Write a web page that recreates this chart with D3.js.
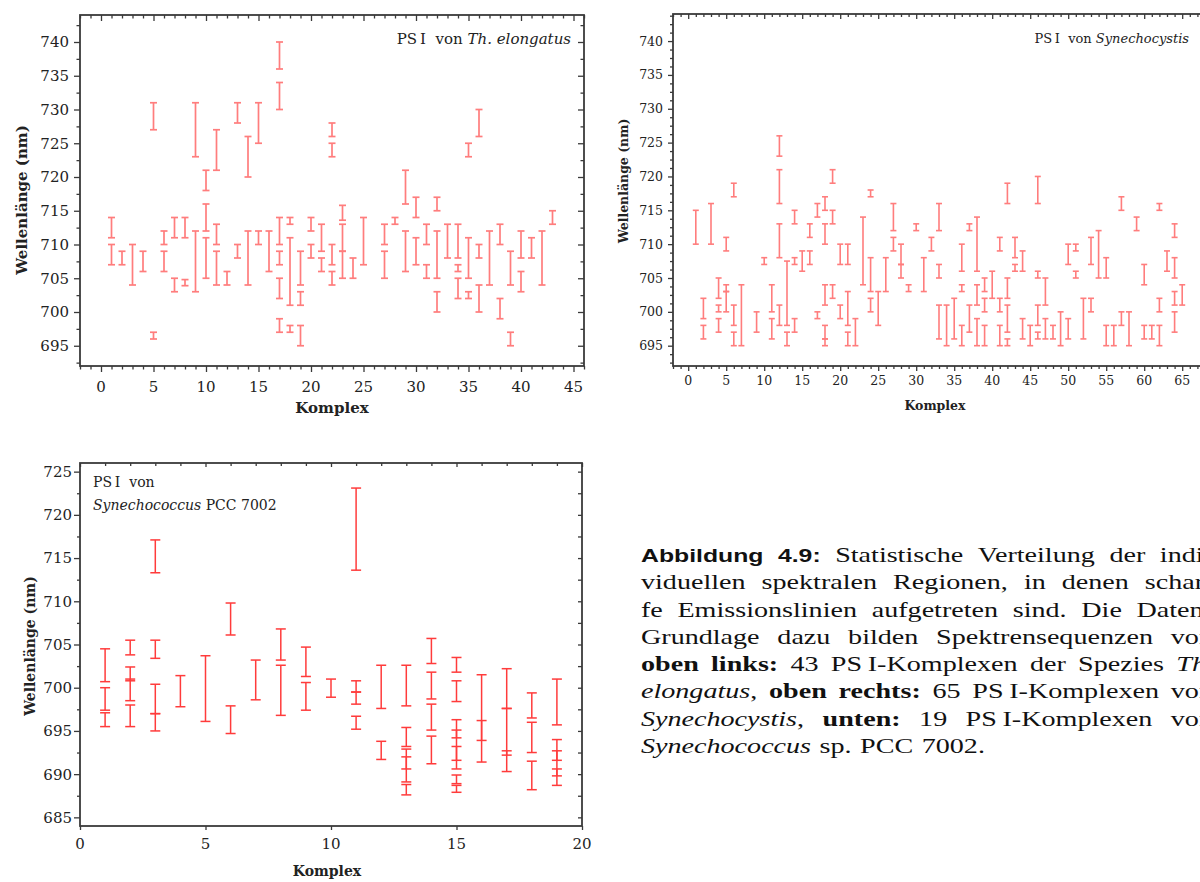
<!DOCTYPE html>
<html>
<head>
<meta charset="utf-8">
<script src="https://cdn.jsdelivr.net/npm/d3@7"></script>
<style>
  body { margin: 0; background: #fff; overflow: hidden; }
  svg { display: block; }
</style>
</head>
<body>
<svg id="fig" width="1200" height="882"></svg>
<script>
// [Komplex, lower nm, upper nm] -- one entry per spectral region
const elongatusBars = [
  [1, 711, 714], [1, 707, 710],
  [2, 707, 709],
  [3, 704, 710],
  [4, 706, 709],
  [5, 727, 731], [5, 696, 697],
  [6, 710, 712], [6, 706, 709],
  [7, 711, 714], [7, 703, 705],
  [8, 711, 714], [8, 703.9, 704.8],
  [9, 723, 731], [9, 703, 712],
  [10, 718, 721], [10, 712, 716], [10, 705, 711],
  [11, 721, 727], [11, 710, 713], [11, 704, 709],
  [12, 704, 706],
  [13, 728, 731], [13, 708, 710],
  [14, 720, 726], [14, 704, 712],
  [15, 725, 731], [15, 710, 712],
  [16, 706, 712],
  [17, 736, 740], [17, 730, 734], [17, 710, 714], [17, 707, 709], [17, 702, 705], [17, 697, 699],
  [18, 713, 714], [18, 701, 711], [18, 697, 698],
  [19, 704, 709], [19, 701, 703], [19, 695, 698],
  [20, 712, 714], [20, 708, 710],
  [21, 709, 713], [21, 706, 708],
  [22, 726, 728], [22, 723, 725], [22, 707, 710], [22, 704, 706],
  [23, 713.6, 715.8], [23, 709, 713], [23, 705, 709],
  [24, 705, 708],
  [25, 707, 714],
  [27, 710, 713], [27, 705, 709],
  [28, 713, 714],
  [29, 716, 721], [29, 706, 712],
  [30, 714, 717], [30, 707, 711],
  [31, 710, 713], [31, 705, 707],
  [32, 715, 717], [32, 705, 712], [32, 700, 703],
  [33, 708, 713],
  [34, 708, 713], [34, 706, 707], [34, 702, 705],
  [35, 723, 725], [35, 705, 711], [35, 702, 703],
  [36, 726, 730], [36, 708, 710], [36, 700, 704],
  [37, 704, 712],
  [38, 710, 713], [38, 699, 702],
  [39, 704, 709], [39, 695, 697],
  [40, 708, 712], [40, 703, 706],
  [41, 708, 711],
  [42, 704, 712],
  [43, 713, 715]
];

const synechocystisBars = [
  [1, 710, 715],
  [2, 699, 702], [2, 696, 698],
  [3, 710, 716],
  [4, 702, 705], [4, 700, 701], [4, 697, 699],
  [5, 709, 711], [5, 703, 704], [5, 700, 703],
  [6, 717, 719], [6, 698, 701], [6, 695, 697],
  [7, 695, 704],
  [9, 697, 700],
  [10, 707, 708],
  [11, 700, 704], [11, 696, 699],
  [12, 723, 726], [12, 716, 721], [12, 708, 713], [12, 698, 701],
  [13, 698, 707.5], [13, 695, 697],
  [14, 713, 715], [14, 707, 708], [14, 697, 699],
  [15, 706, 709],
  [16, 711, 713], [16, 707, 709],
  [17, 714, 716], [17, 699, 700],
  [18, 715, 717], [18, 710, 713], [18, 701, 704], [18, 696, 698], [18, 695, 696],
  [19, 719, 721], [19, 713, 715], [19, 702, 704],
  [20, 707, 710], [20, 699, 701],
  [21, 707, 710], [21, 698, 703], [21, 695, 697],
  [22, 695, 699],
  [23, 704, 714],
  [24, 717, 718], [24, 703, 708], [24, 700, 702],
  [25, 698, 703],
  [26, 703, 708],
  [27, 712, 716], [27, 709, 711],
  [28, 707, 710], [28, 705, 707],
  [29, 703, 704],
  [30, 712, 713],
  [31, 703, 708],
  [32, 709, 711],
  [33, 712, 716], [33, 705, 707], [33, 696, 701],
  [34, 695, 701],
  [35, 696, 702],
  [36, 706, 710], [36, 703, 704], [36, 695, 698],
  [37, 712, 713], [37, 697, 701],
  [38, 706, 714], [38, 701, 704], [38, 695, 699],
  [39, 703, 705], [39, 700, 702], [39, 695, 698],
  [40, 702, 706],
  [41, 709, 711], [41, 700, 702], [41, 695, 698],
  [42, 716, 719], [42, 702, 705], [42, 697, 701], [42, 695, 696],
  [43, 708, 711], [43, 706, 707],
  [44, 706, 709], [44, 696, 699],
  [45, 695, 698],
  [46, 716, 720], [46, 705, 706], [46, 698, 701], [46, 696, 697],
  [47, 701, 705], [47, 696, 699],
  [48, 696, 698],
  [49, 695, 700],
  [50, 707, 710], [50, 696, 699],
  [51, 709, 710], [51, 705, 706],
  [52, 696, 702],
  [53, 707, 711], [53, 700, 702],
  [54, 705, 712],
  [55, 705, 708], [55, 695, 698],
  [56, 695, 698],
  [57, 715, 717], [57, 698, 700],
  [58, 695, 700],
  [59, 712, 714],
  [60, 704, 707], [60, 696, 698],
  [61, 696, 698],
  [62, 715, 716], [62, 700, 702], [62, 695, 698],
  [63, 706, 709],
  [64, 711, 713], [64, 705, 708], [64, 701, 703], [64, 697, 700],
  [65, 701, 704]
];

const pcc7002Bars = [
  [1, 700.7, 704.5], [1, 697.4, 700.0], [1, 695.5, 697.1],
  [2, 703.8, 705.5], [2, 700.8, 702.4], [2, 698.5, 701.0], [2, 695.5, 698.0],
  [3, 713.3, 717.1], [3, 703.4, 705.5], [3, 697.0, 700.4], [3, 695.0, 697.0],
  [4, 697.8, 701.4],
  [5, 696.1, 703.7],
  [6, 706.1, 709.8], [6, 694.7, 697.9],
  [7, 698.6, 703.2],
  [8, 703.2, 706.8], [8, 696.8, 702.6],
  [9, 701.3, 704.7], [9, 697.4, 700.6],
  [10, 698.9, 701.0],
  [11, 713.6, 723.1], [11, 699.5, 700.8], [11, 698.1, 699.5], [11, 695.2, 696.7],
  [12, 697.6, 702.6], [12, 691.7, 693.8],
  [13, 697.9, 702.6], [13, 693.2, 695.4], [13, 690.6, 692.9], [13, 689.1, 692.0], [13, 687.6, 688.8],
  [14, 702.8, 705.7], [14, 698.7, 701.8], [14, 695.1, 698.1], [14, 691.2, 694.4],
  [15, 701.8, 703.5], [15, 698.4, 700.8], [15, 694.2, 696.3], [15, 691.6, 695.1], [15, 690.6, 693.2], [15, 688.9, 689.9], [15, 687.9, 688.7],
  [16, 693.9, 701.5], [16, 691.4, 696.2],
  [17, 697.6, 702.2], [17, 692.2, 697.6], [17, 690.3, 692.7],
  [18, 696.5, 699.4], [18, 692.5, 696.0], [18, 688.2, 691.5],
  [19, 695.7, 701.0], [19, 691.6, 694.0], [19, 689.8, 692.7], [19, 688.7, 690.6]
];

// tick labels
const xTicksElong = [0, 5, 10, 15, 20, 25, 30, 35, 40, 45];
const xTicksCystis = [0, 5, 10, 15, 20, 25, 30, 35, 40, 45, 50, 55, 60, 65];
const xTicksPcc = [0, 5, 10, 15, 20];
const yTicksTop = [695, 700, 705, 710, 715, 720, 725, 730, 735, 740];
const yTicksPcc = [685, 690, 695, 700, 705, 710, 715, 720, 725];

const captionLines = [
  "#Abbildung# #4.9:# Statistische Verteilung der indi-",
  "viduellen spektralen Regionen, in denen schar-",
  "fe Emissionslinien aufgetreten sind. Die Daten-",
  "Grundlage dazu bilden Spektrensequenzen von",
  "*oben* *links:* 43 PS\u2009I-Komplexen der Spezies _Th._",
  "_elongatus_, *oben* *rechts:* 65 PS\u2009I-Komplexen von",
  "_Synechocystis_, *unten:* 19 PS\u2009I-Komplexen von",
  "_Synechococcus_ sp. PCC 7002."
];

const svg = d3.select("#fig");
const serif = "'DejaVu Serif', serif";
const frameColor = "#3a3a3a";

const panels = [
  {
    data: elongatusBars, xDomain: [-2, 46], yDomain: [692, 744],
    left: 80, right: 584, top: 15, bottom: 366,
    xTicks: xTicksElong, xMinorStep: 1, yTicks: yTicksTop, yMinorStep: 2.5,
    font: 15, xLabelY: 392, yLabelX: 69,
    color: "#ff5252", opacity: 0.75, barWidth: 1.7, cap: 3.5,
    bottomLen: [6, 3.5], leftLen: [6, 3.5], topLen: [-6, -3.5], rightLen: [-6, -3.5],
    yTitle: { x: 27, y: 200, size: 15 }, xTitle: { x: 332, y: 413, size: 15 },
    title: { x: 571, y: 44, size: 15, anchor: "end", lines: [[["PS\u2009I  von ", false], ["Th. elongatus", true]]] }
  },
  {
    data: synechocystisBars, xDomain: [-2, 68], yDomain: [692, 744],
    left: 673, right: 1205, top: 14, bottom: 366,
    xTicks: xTicksCystis, xMinorStep: 1, yTicks: yTicksTop, yMinorStep: 1.25,
    font: 12.5, xLabelY: 385, yLabelX: 663,
    color: "#ff5252", opacity: 0.75, barWidth: 1.6, cap: 3,
    bottomLen: [5, 3], leftLen: [5, 3], topLen: [-5, -3], rightLen: [-5, -3],
    yTitle: { x: 628, y: 181, size: 12.5 }, xTitle: { x: 935, y: 410, size: 12.5 },
    title: { x: 1189, y: 43, size: 13, anchor: "end", lines: [[["PS\u2009I  von ", false], ["Synechocystis", true]]] }
  },
  {
    data: pcc7002Bars, xDomain: [0, 20], yDomain: [684, 726],
    left: 80, right: 582, top: 463, bottom: 826,
    xTicks: xTicksPcc, xMinorStep: 1, yTicks: yTicksPcc, yMinorStep: 2.5,
    font: 15, xLabelY: 849, yLabelX: 72,
    color: "#ff1a1a", opacity: 0.85, barWidth: 1.5, cap: 5,
    bottomLen: [4, 0], leftLen: [6, 3], topLen: [-4, -3], rightLen: [-4, -4],
    yTitle: { x: 35, y: 646, size: 14 }, xTitle: { x: 327, y: 876, size: 14 },
    title: { x: 93, y: 487, size: 14, anchor: "start",
      lines: [[["PS\u2009I  von", false]], [["Synechococcus", true], [" PCC 7002", false]]] }
  }
];

function drawPanel(p) {
  const x = d3.scaleLinear().domain(p.xDomain).range([p.left, p.right]);
  const y = d3.scaleLinear().domain(p.yDomain).range([p.bottom, p.top]);
  const g = svg.append("g");

  // range bars
  const bars = g.append("g")
    .attr("stroke", p.color)
    .attr("stroke-width", p.barWidth)
    .attr("opacity", p.opacity);
  p.data.forEach(([k, lo, hi]) => {
    bars.append("line")
      .attr("x1", x(k)).attr("x2", x(k))
      .attr("y1", y(lo)).attr("y2", y(hi));
    [lo, hi].forEach(v => {
      bars.append("line")
        .attr("x1", x(k) - p.cap).attr("x2", x(k) + p.cap)
        .attr("y1", y(v)).attr("y2", y(v));
    });
  });

  // ticks: majors and minors on all four sides
  const xMinor = d3.range(Math.ceil(p.xDomain[0]), p.xDomain[1] + 0.001, p.xMinorStep)
    .filter(v => !p.xTicks.includes(v));
  const yMinor = d3.range(Math.ceil(p.yDomain[0] / p.yMinorStep) * p.yMinorStep, p.yDomain[1] + 0.001, p.yMinorStep)
    .filter(v => !p.yTicks.includes(v));

  const sides = [
    { axis: d3.axisBottom, scale: x, t: `translate(0,${p.bottom})`, major: p.xTicks, minor: xMinor, len: p.bottomLen },
    { axis: d3.axisTop, scale: x, t: `translate(0,${p.top})`, major: p.xTicks, minor: xMinor, len: p.topLen },
    { axis: d3.axisLeft, scale: y, t: `translate(${p.left},0)`, major: p.yTicks, minor: yMinor, len: p.leftLen },
    { axis: d3.axisRight, scale: y, t: `translate(${p.right},0)`, major: p.yTicks, minor: yMinor, len: p.rightLen }
  ];
  sides.forEach(s => {
    [[s.major, s.len[0]], [s.minor, s.len[1]]].forEach(([vals, len]) => {
      if (!len) return;
      const a = g.append("g").attr("transform", s.t)
        .call(s.axis(s.scale).tickValues(vals).tickSize(len).tickFormat(""));
      a.select(".domain").remove();
      a.selectAll(".tick line").attr("stroke", frameColor).attr("stroke-width", 1.3);
    });
  });

  g.append("rect")
    .attr("x", p.left).attr("y", p.top)
    .attr("width", p.right - p.left).attr("height", p.bottom - p.top)
    .attr("fill", "none").attr("stroke", frameColor).attr("stroke-width", 1.8);

  // tick labels
  g.append("g").selectAll("text").data(p.xTicks).join("text")
    .attr("x", d => x(d)).attr("y", p.xLabelY)
    .attr("text-anchor", "middle")
    .attr("font-family", serif).attr("font-size", p.font).attr("fill", "#222")
    .text(d => d);
  g.append("g").selectAll("text").data(p.yTicks).join("text")
    .attr("x", p.yLabelX).attr("y", d => y(d) + p.font * 0.36)
    .attr("text-anchor", "end")
    .attr("font-family", serif).attr("font-size", p.font).attr("fill", "#222")
    .text(d => d);

  // axis titles
  g.append("text")
    .attr("transform", `translate(${p.yTitle.x},${p.yTitle.y}) rotate(-90)`)
    .attr("text-anchor", "middle")
    .attr("font-family", serif).attr("font-weight", "bold")
    .attr("font-size", p.yTitle.size).attr("fill", "#222")
    .text("Wellenlänge (nm)");
  g.append("text")
    .attr("x", p.xTitle.x).attr("y", p.xTitle.y)
    .attr("text-anchor", "middle")
    .attr("font-family", serif).attr("font-weight", "bold")
    .attr("font-size", p.xTitle.size).attr("fill", "#222")
    .text("Komplex");

  // panel title
  p.title.lines.forEach((line, i) => {
    const t = g.append("text")
      .attr("x", p.title.x).attr("y", p.title.y + i * 23)
      .attr("text-anchor", p.title.anchor)
      .attr("font-family", serif).attr("font-size", p.title.size).attr("fill", "#222")
      .style("white-space", "pre");
    line.forEach(([txt, it]) => {
      t.append("tspan").attr("font-style", it ? "italic" : "normal").text(txt);
    });
  });
}

panels.forEach(drawPanel);

// caption, justified like the LaTeX original; glyphs are widened to the
// reference measure (last line ends at x = 985)
const capX0 = 641, capX1 = 1213, capLastEnd = 985, capY0 = 562, capStep = 27.3, capFont = 21;
const capStyles = {
  "#": { family: "'Liberation Sans', sans-serif", weight: "bold", style: "normal", size: 18.5 },
  "*": { family: "'Liberation Serif', serif", weight: "bold", style: "normal", size: capFont },
  "_": { family: "'Liberation Serif', serif", weight: "normal", style: "italic", size: capFont },
  "": { family: "'Liberation Serif', serif", weight: "normal", style: "normal", size: capFont }
};
const capG = svg.append("g").attr("fill", "#111");
const capRows = captionLines.map((line, li) => {
  const words = line.split(" ");
  const nodes = words.map(w => {
    const t = capG.append("text").attr("y", capY0 + li * capStep).attr("font-size", capFont);
    (w.match(/#[^#]+#|\*[^*]+\*|_[^_]+_|[^#*_]+/g) || []).forEach(seg => {
      const m = "#*_".includes(seg[0]) ? seg[0] : "";
      const st = capStyles[m];
      t.append("tspan")
        .attr("font-family", st.family).attr("font-weight", st.weight)
        .attr("font-style", st.style).attr("font-size", st.size)
        .text(m ? seg.slice(1, -1) : seg);
    });
    return t;
  });
  const widths = nodes.map(n => n.node().getComputedTextLength());
  return { nodes, widths };
});
const space = capFont * 0.3;
const lastRow = capRows[capRows.length - 1];
const lastNatural = d3.sum(lastRow.widths) + space * (lastRow.widths.length - 1);
const sx = (capLastEnd - capX0) / lastNatural;
capG.attr("transform", `translate(${capX0},0) scale(${sx},1)`);
const lineW = (capX1 - capX0) / sx;
capRows.forEach((row, li) => {
  const last = li === capRows.length - 1;
  const total = d3.sum(row.widths);
  const gap = last ? space : Math.max(3, (lineW - total) / (row.widths.length - 1));
  let cx = 0;
  row.nodes.forEach((n, i) => {
    n.attr("x", cx);
    cx += row.widths[i] + gap;
  });
});
</script>
</body>
</html>
